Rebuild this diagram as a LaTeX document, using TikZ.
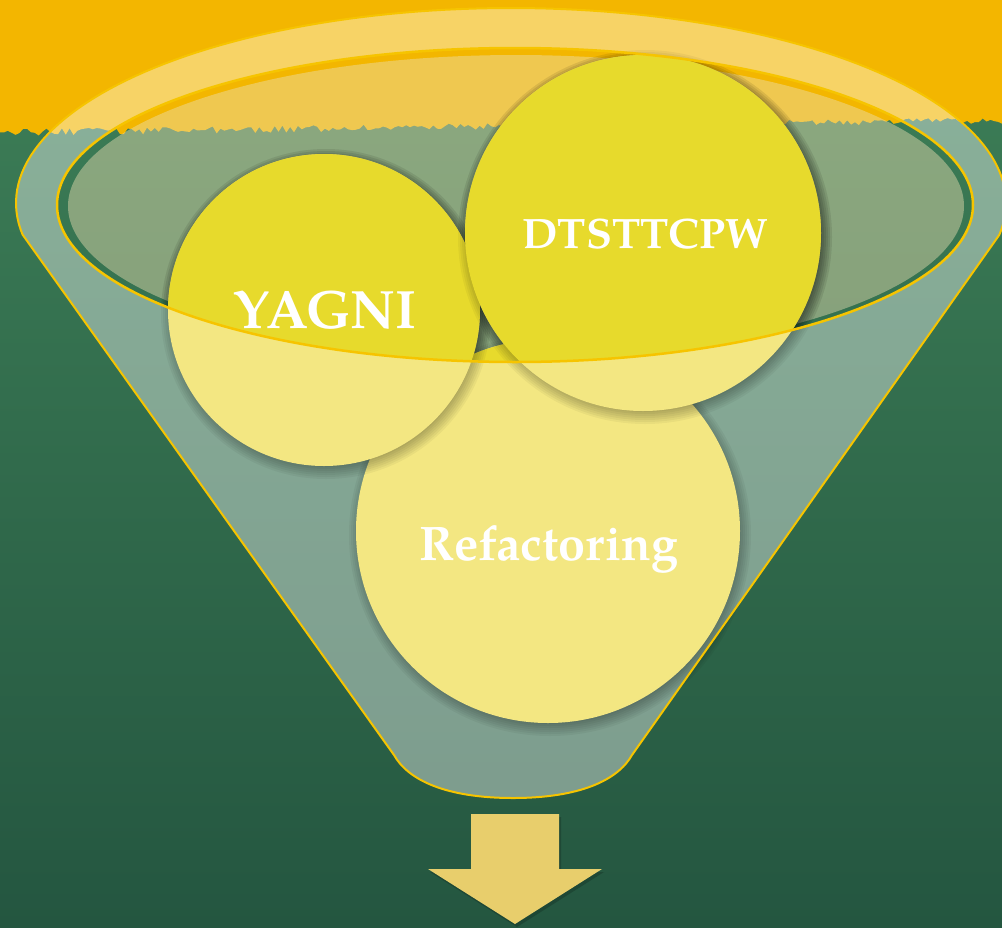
\documentclass[tikz,border=0pt]{standalone}
\usepackage{fontspec}
\setmainfont{texgyrepagella}[Extension=.otf, UprightFont=*-regular, BoldFont=*-bold, ItalicFont=*-italic, BoldItalicFont=*-bolditalic]
\definecolor{orangebg}{RGB}{243,182,0}
\definecolor{greentop}{RGB}{62,128,88}
\definecolor{greenbot}{RGB}{36,86,64}
\definecolor{gold}{RGB}{246,196,0}
\definecolor{interior}{RGB}{236,222,178}
\definecolor{palecircle}{RGB}{243,231,130}
\definecolor{satcircle}{RGB}{231,218,44}
\definecolor{arrowcol}{RGB}{232,206,108}
\tikzset{
  lbl/.style={text=white, inner sep=0pt, anchor=base},
  outline/.style={draw=gold, line width=2pt, line join=round},
}
\newcommand\softshadow[3]{%
  \foreach \k in {1,...,7}{\fill[black,opacity=0.045] ({#1+2},{#2+4}) circle[radius={#3-5+\k*2}];}}
\def\funnelpath{(22.7,234.8) -- plot[domain=170.6:369.4, samples=120] ({511+495*cos(\x)},{203+195*sin(\x)}) -- (632,755) .. controls (618,780) and (580,798) .. (513,798) .. controls (446,798) and (408,780) .. (394,755) -- cycle}
\begin{document}
\begin{tikzpicture}[x=1pt,y=-1pt]
\useasboundingbox (0,0) rectangle (1002,927);
\pgfmathsetseed{11}
% background
\shade[top color=greentop, bottom color=greenbot] (0,0) rectangle (1002,927);
\fill[orangebg] (0,0) -- (1002,0) -- plot[domain=1002:0, samples=260, variable=\t] (\t, {129 - 0.012*\t + 7*rnd}) -- cycle;
% funnel body
\fill[white, opacity=0.4, even odd rule] \funnelpath (515,205) ellipse[x radius=458, y radius=157];
\fill[interior, opacity=0.45] (516,206) ellipse[x radius=448, y radius=151];
% circles (pale)
\softshadow{548}{531}{192}
\fill[palecircle] (548,531) circle[radius=192];
\softshadow{324}{310}{156}
\fill[palecircle] (324,310) circle[radius=156];
\softshadow{643}{233}{178}
\fill[palecircle] (643,233) circle[radius=178];
% circles inside the top ellipse (saturated)
\begin{scope}
  \clip (515,205) ellipse[x radius=458, y radius=157];
  \fill[satcircle] (548,531) circle[radius=192];
  \softshadow{324}{310}{156}
  \fill[satcircle] (324,310) circle[radius=156];
  \softshadow{643}{233}{178}
  \fill[satcircle] (643,233) circle[radius=178];
\end{scope}
% outlines
\draw[outline] \funnelpath;
\draw[outline, line width=2.5pt] (515,205) ellipse[x radius=458, y radius=157];
% labels
\node[lbl, font=\bfseries\fontsize{54}{62}\selectfont] (yagni) at (325,328) {YAGNI};
\node[lbl, font=\bfseries\fontsize{42.5}{50}\selectfont] (dts) at (645,248) {DTSTTCPW};
\node[lbl, font=\bfseries\fontsize{48.5}{56}\selectfont] (refac) at (549,560) {Refactoring};
% arrow
\fill[black, opacity=0.18] (473,817) -- (561,817) -- (561,872) -- (604,872) -- (517,927) -- (430,872) -- (473,872) -- cycle;
\fill[arrowcol] (471,814) -- (559,814) -- (559,869) -- (602,869) -- (515,924) -- (428,869) -- (471,869) -- cycle;
\end{tikzpicture}
\end{document}
